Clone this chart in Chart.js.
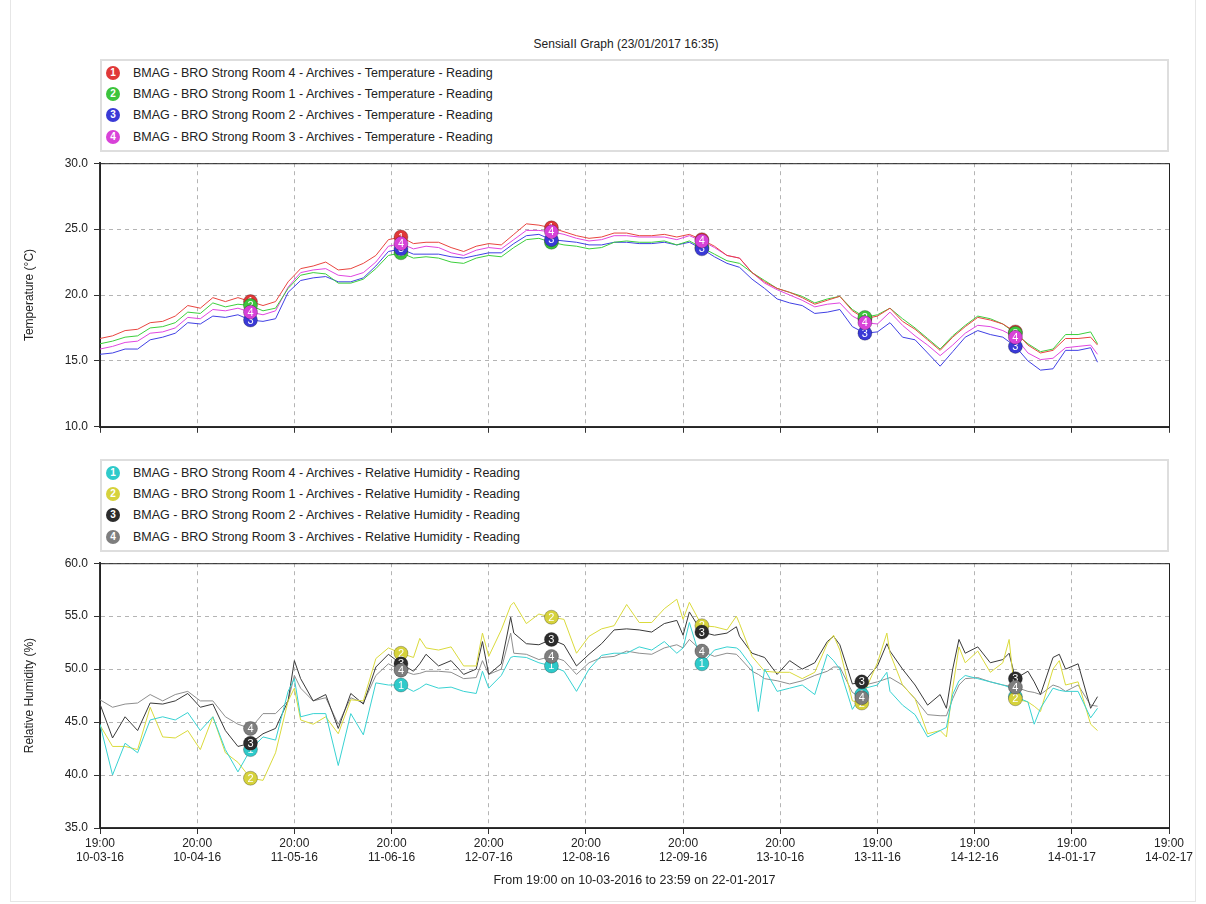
<!DOCTYPE html>
<html>
<head>
<meta charset="utf-8">
<title>SensiaII Graph</title>
<script src="https://cdn.jsdelivr.net/npm/chart.js@4.4.0/dist/chart.umd.min.js"></script>
<style>
  body { margin: 0; background: #fff; font-family: "Liberation Sans", Arial, sans-serif; }
  #page { position: relative; width: 1206px; height: 904px; overflow: hidden; }
  .frame { position: absolute; left: 10px; top: -1px; width: 1186px; height: 903px; border: 1px solid #e6e6e6; box-sizing: border-box; }
  #title { position: absolute; left: 0; top: 37px; width: 1252px; text-align: center; font-size: 12px; color: #222; }
  .legend { position: absolute; left: 100px; width: 1069px; height: 93px; border: 2px solid #dedede; box-sizing: border-box; padding-top: 1px; }
  .item { height: 21.3px; font-size: 12.5px; color: #222; display: flex; align-items: center; }
  .badge { width: 14px; height: 14px; border-radius: 50%; color: #fff; font-size: 10px; font-weight: bold;
           text-align: center; line-height: 14px; margin-left: 4px; margin-right: 13px; }
  canvas { position: absolute; left: 0; }
</style>
</head>
<body>
<div id="page">
  <div class="frame"></div>
  <div id="title">SensiaII Graph (23/01/2017 16:35)</div>
  <div class="legend" id="legTemp" style="top:59px"></div>
  <div class="legend" id="legHum" style="top:459px"></div>
  <canvas id="tempChart" width="1206" height="290" style="top:150px"></canvas>
  <canvas id="humChart" width="1206" height="354" style="top:550px"></canvas>
</div>
<script>
// x axis: days since 19:00 on 10-03-2016, a tick every 31 days
const xTickTimes = ['19:00','20:00','20:00','20:00','20:00','20:00','20:00','20:00','19:00','19:00','19:00','19:00'];
const xTickDates = ['10-03-16','10-04-16','11-05-16','11-06-16','12-07-16','12-08-16','12-09-16','13-10-16','13-11-16','14-12-16','14-01-17','14-02-17'];

// temperature readings (deg C)
const tempDays = [0,4,8,12,16,20,24,28,32,36, 40,44,48,52,56,60,64,68,72,76,
  80,84,88,92,96,100,104,108,112,116, 120,124,128,132,136,140,144,148,152,156,
  160,164,168,172,176,180,184,188,192,196, 200,204,208,212,216,220,224,228,232,236,
  240,244,248,252,256,260,264,268,272,276, 280,284,288,292,296,300,304,308,312,316, 318.2];
const tempRoom4 = [16.7,16.9,17.3,17.4,17.9,18.0,18.4,19.2,19.0,19.8,
  19.5,19.8,19.5,19.2,19.5,21.0,22.0,22.2,22.5,21.9,
  22.0,22.4,23.0,24.2,24.4,23.9,24.0,24.0,23.6,23.3,
  23.7,23.9,23.8,24.6,25.4,25.3,25.1,24.8,24.5,24.3,
  24.4,24.7,24.7,24.5,24.5,24.6,24.4,24.6,24.2,23.7,
  23.0,22.8,21.7,21.0,20.5,20.2,19.8,19.3,19.6,19.9,
  18.8,18.2,18.4,19.0,18.0,17.4,16.6,15.8,16.8,17.6,
  18.3,18.1,17.8,17.2,16.2,15.6,15.8,16.7,16.7,16.8, 16.2];
const tempRoom1 = [16.3,16.5,16.8,16.9,17.5,17.6,17.9,18.7,18.6,19.4,
  19.1,19.3,19.2,18.8,19.0,20.5,21.5,21.7,21.6,20.9,
  20.9,21.2,22.0,23.0,23.2,22.8,22.9,22.8,22.5,22.4,
  22.8,23.0,22.9,23.6,24.2,24.3,24.0,23.8,23.7,23.5,
  23.6,24.0,24.1,24.0,24.0,24.1,23.8,24.1,23.6,23.1,
  22.6,22.4,21.7,21.1,20.5,20.2,19.9,19.4,19.7,19.9,
  18.9,18.3,18.5,19.0,18.2,17.5,16.7,15.9,16.9,17.7,
  18.4,18.2,17.8,17.1,16.3,15.7,15.9,17.0,17.0,17.2, 16.3];
const tempRoom2 = [15.5,15.6,15.9,15.9,16.6,16.8,17.1,17.9,17.8,18.4,
  18.3,18.5,18.1,18.0,18.2,20.2,21.1,21.3,21.4,21.0,
  21.0,21.3,22.2,23.3,23.5,23.1,23.1,23.1,22.9,22.8,
  23.0,23.2,23.2,23.9,24.5,24.6,24.2,24.1,24.0,23.8,
  23.8,24.0,24.0,23.9,23.9,24.0,23.8,24.0,23.5,22.9,
  22.4,22.1,21.2,20.5,19.7,19.4,19.2,18.6,18.7,18.9,
  17.6,17.1,17.2,17.9,16.8,16.6,15.6,14.6,15.7,16.8,
  17.3,17.0,16.8,16.1,15.0,14.3,14.4,15.8,15.8,16.0, 14.9];
const tempRoom3 = [15.9,16.1,16.4,16.5,17.1,17.2,17.5,18.3,18.2,18.9,
  18.8,19.0,18.7,18.5,18.8,20.6,21.7,21.9,22.0,21.5,
  21.4,21.7,22.5,23.7,23.9,23.5,23.7,23.6,23.2,23.0,
  23.4,23.6,23.5,24.2,24.9,24.9,24.8,24.6,24.3,24.1,
  24.2,24.5,24.5,24.4,24.4,24.4,24.2,24.5,24.1,23.6,
  23.0,22.8,21.7,20.9,20.4,20.0,19.6,19.1,19.3,19.4,
  18.4,17.9,17.8,18.7,17.7,16.9,16.2,15.4,16.2,17.1,
  17.7,17.6,17.3,16.8,15.6,15.1,15.2,16.0,16.1,16.2, 15.5];

// relative humidity readings (%)
const humDays = [0,4,8,12,16,20,24,28,32,36, 40,44,48,52,56,60,62,64,68,72,
  76,80,84,88,92,96,100,102,104,108, 112,116,120,122,124,128,131,132,136,140,
  144,148,152,156,160,164,168,172,176,180, 184,186,188,192,196,200,203,204,208,210,
  212,216,220,224,228,232,234,236,240,243, 244,248,251,252,256,260,264,268,270,272,
  274,276,280,284,288,290,292,296,298,300, 304,306,308,312,316,318.2];
const humRoom4 = [44.8,40.0,43.0,42.1,45.2,45.5,45.2,45.9,44.2,45.5,
  42.4,40.3,42.4,43.6,43.3,47.9,49.1,45.5,45.8,45.8,
  40.9,45.8,43.8,48.7,48.5,48.5,47.9,48.2,48.6,48.2,
  48.3,47.9,47.7,49.8,48.2,49.4,51.1,51.2,51.1,50.6,
  50.3,49.8,47.9,50.0,51.3,51.5,51.5,52.1,51.8,52.6,
  51.5,52.0,54.4,50.5,51.8,52.1,52.0,51.8,50.2,46.0,
  50.0,47.9,48.2,48.5,47.6,51.4,50.8,50.0,46.2,47.6,
  48.2,48.5,49.7,47.9,46.6,45.7,43.6,44.2,44.5,47.6,
  48.9,49.4,49.1,48.8,48.5,48.3,47.4,46.9,44.8,46.3,
  48.2,48.0,47.9,47.9,45.4,46.3];
const humRoom1 = [44.7,42.7,42.7,42.4,46.4,43.6,43.5,44.2,42.4,45.5,
  42.1,41.2,39.7,39.5,42.1,47.0,48.2,45.2,44.8,45.5,
  43.9,47.1,47.0,51.0,52.0,51.5,51.1,52.9,52.0,51.8,
  52.1,50.3,50.3,53.4,51.2,53.7,56.0,56.3,54.3,55.2,
  54.9,54.7,51.5,53.1,53.8,54.1,56.1,54.4,54.4,55.7,
  56.6,54.7,56.3,54.1,54.0,53.7,55.0,54.3,51.2,50.5,
  49.8,49.7,49.7,49.1,49.7,52.4,53.2,51.8,47.0,46.8,
  47.9,50.6,53.4,51.5,48.5,47.2,43.9,44.2,43.6,48.2,
  52.1,50.6,51.7,49.7,50.6,52.8,47.2,46.9,46.5,46.0,
  50.0,50.8,48.5,48.8,44.8,44.2];
const humRoom2 = [46.7,43.5,45.5,44.2,46.8,46.7,47.0,47.7,46.4,46.7,
  44.2,42.7,43.0,43.9,44.4,47.0,50.8,49.1,47.0,47.6,
  44.4,47.7,46.7,50.2,51.4,50.5,49.8,50.5,51.4,50.3,
  50.8,49.5,50.0,52.6,49.5,50.5,54.9,53.4,52.4,52.3,
  52.8,52.3,50.3,51.4,52.4,53.7,53.8,53.7,53.5,54.3,
  54.6,53.2,55.4,53.5,53.2,53.4,54.0,53.1,51.5,51.3,
  51.1,49.5,50.8,50.0,50.6,52.6,53.1,52.3,48.6,48.8,
  48.9,50.3,52.4,51.7,50.0,48.5,46.6,47.6,46.3,50.0,
  52.8,51.5,52.1,50.6,50.9,51.5,49.1,49.8,48.8,47.6,
  51.1,51.4,50.0,50.5,46.3,47.4];
const humRoom3 = [47.1,46.4,46.7,46.8,47.6,47.0,47.6,47.9,47.0,47.0,
  45.5,44.8,44.4,45.8,45.8,47.0,49.4,48.2,47.0,47.3,
  44.8,47.3,46.8,49.4,50.5,49.9,49.5,49.6,49.8,49.8,
  49.7,49.1,49.2,50.8,49.5,50.0,53.4,51.5,51.4,50.9,
  51.2,50.8,49.5,50.6,51.1,51.2,51.7,51.5,51.4,52.0,
  52.3,52.0,52.8,51.7,51.2,51.5,51.4,51.1,49.8,49.5,
  49.1,48.9,48.6,48.9,49.4,49.8,50.2,50.2,47.8,47.3,
  48.5,48.8,49.1,49.2,48.5,47.2,45.7,45.6,45.6,47.2,
  48.5,49.1,49.2,48.8,48.5,48.4,48.3,47.9,47.8,47.6,
  48.5,48.3,47.9,48.5,46.6,46.5];

// days where the numbered markers sit on each line
const markerDays = [48, 96, 144, 194, 243, 292];

const tempNames = [
  'BMAG - BRO Strong Room 4 - Archives - Temperature - Reading',
  'BMAG - BRO Strong Room 1 - Archives - Temperature - Reading',
  'BMAG - BRO Strong Room 2 - Archives - Temperature - Reading',
  'BMAG - BRO Strong Room 3 - Archives - Temperature - Reading'];
const humNames = [
  'BMAG - BRO Strong Room 4 - Archives - Relative Humidity - Reading',
  'BMAG - BRO Strong Room 1 - Archives - Relative Humidity - Reading',
  'BMAG - BRO Strong Room 2 - Archives - Relative Humidity - Reading',
  'BMAG - BRO Strong Room 3 - Archives - Relative Humidity - Reading'];
const tempLine = ['#e8453f', '#3ccf3c', '#4040e4', '#e046e0'];
const tempMark = ['#e03838', '#3cc43c', '#3a3ad6', '#d842d8'];
const humLine = ['#38d2d2', '#dada3c', '#3a3a3a', '#8e8e8e'];
const humMark = ['#2ecaca', '#d6d23c', '#2c2c2c', '#7e7e7e'];

const FONT = '"Liberation Sans", Arial, sans-serif';

function nearestIdx(days, d) {
  let best = 0;
  days.forEach((v, i) => { if (Math.abs(v - d) < Math.abs(days[best] - d)) best = i; });
  return best;
}

function makeLegend(id, names, colors) {
  const box = document.getElementById(id);
  names.forEach((n, i) => {
    const row = document.createElement('div');
    row.className = 'item';
    row.innerHTML = '<span class="badge" style="background:' + colors[i] + '">' + (i + 1) + '</span>' + n;
    box.appendChild(row);
  });
}
makeLegend('legTemp', tempNames, tempMark);
makeLegend('legHum', humNames, humMark);

function makeDatasets(days, series, lineCols, markCols) {
  const marks = markerDays.map(d => nearestIdx(days, d));
  return series.map((vals, k) => ({
    data: days.map((d, i) => ({ x: d, y: vals[i] })),
    borderColor: lineCols[k],
    borderWidth: 1,
    pointRadius: 0,
    tension: 0,
    markIdx: marks,
    markColor: markCols[k],
    markLabel: String(k + 1)
  }));
}

const markerPlugin = {
  id: 'markers',
  afterDatasetsDraw(chart) {
    const ctx = chart.ctx;
    ctx.save();
    chart.data.datasets.forEach((ds, di) => {
      const meta = chart.getDatasetMeta(di);
      ds.markIdx.forEach(i => {
        const el = meta.data[i];
        ctx.beginPath();
        ctx.arc(el.x, el.y, 7, 0, Math.PI * 2);
        ctx.fillStyle = ds.markColor;
        ctx.fill();
        ctx.lineWidth = 1;
        ctx.strokeStyle = 'rgba(0,0,0,0.25)';
        ctx.stroke();
        ctx.fillStyle = '#fff';
        ctx.font = '11px ' + FONT;
        ctx.textAlign = 'center';
        ctx.textBaseline = 'middle';
        ctx.fillText(ds.markLabel, el.x, el.y + 0.5);
      });
    });
    ctx.restore();
  }
};

const framePlugin = {
  id: 'frame',
  beforeDatasetsDraw(chart) {
    const a = chart.chartArea, ctx = chart.ctx;
    ctx.save();
    ctx.strokeStyle = '#222';
    ctx.lineWidth = 1;
    ctx.strokeRect(a.left + 0.5, a.top + 0.5, a.right - a.left, a.bottom - a.top);
    ctx.restore();
  }
};

function makeOptions(yMin, yMax, yTitle, showX) {
  return {
    responsive: false,
    animation: false,
    layout: { padding: { top: 5, right: 37, bottom: 0, left: 0 } },
    plugins: { legend: { display: false }, tooltip: { enabled: false } },
    scales: {
      x: {
        type: 'linear', min: 0, max: 341,
        afterFit: s => { s.height = showX ? 76 : 12; },
        border: { color: '#333', width: 2, dash: [4, 4] },
        grid: { color: '#b4b4b4', tickColor: '#333', tickLength: 6, tickBorderDash: [] },
        ticks: {
          display: showX, stepSize: 31, autoSkip: false, maxRotation: 0, padding: 2,
          color: '#222', font: { family: FONT, size: 12 },
          callback: v => { const k = Math.round(v / 31); return [xTickTimes[k], xTickDates[k]]; }
        },
        title: showX ? {
          display: true, text: 'From 19:00 on 10-03-2016 to 23:59 on 22-01-2017',
          color: '#222', font: { family: FONT, size: 12.5 }, padding: { top: 4, bottom: 16 }
        } : { display: false }
      },
      y: {
        min: yMin, max: yMax,
        afterFit: s => { s.width = 100; },
        border: { color: '#333', width: 2, dash: [4, 4] },
        grid: { color: '#b4b4b4', tickColor: '#333', tickLength: 6, tickBorderDash: [] },
        ticks: {
          stepSize: 5, padding: 6, color: '#222', font: { family: FONT, size: 12 },
          callback: v => v.toFixed(1)
        },
        title: {
          display: true, text: yTitle, color: '#222',
          font: { family: FONT, size: 12 }, padding: { top: 22, bottom: 0 }
        }
      }
    }
  };
}

new Chart(document.getElementById('tempChart'), {
  type: 'line',
  data: { datasets: makeDatasets(tempDays, [tempRoom4, tempRoom1, tempRoom2, tempRoom3], tempLine, tempMark) },
  options: makeOptions(10, 30, 'Temperature (°C)', false),
  plugins: [framePlugin, markerPlugin]
});

new Chart(document.getElementById('humChart'), {
  type: 'line',
  data: { datasets: makeDatasets(humDays, [humRoom4, humRoom1, humRoom2, humRoom3], humLine, humMark) },
  options: makeOptions(35, 60, 'Relative Humidity (%)', true),
  plugins: [framePlugin, markerPlugin]
});
</script>
</body>
</html>
